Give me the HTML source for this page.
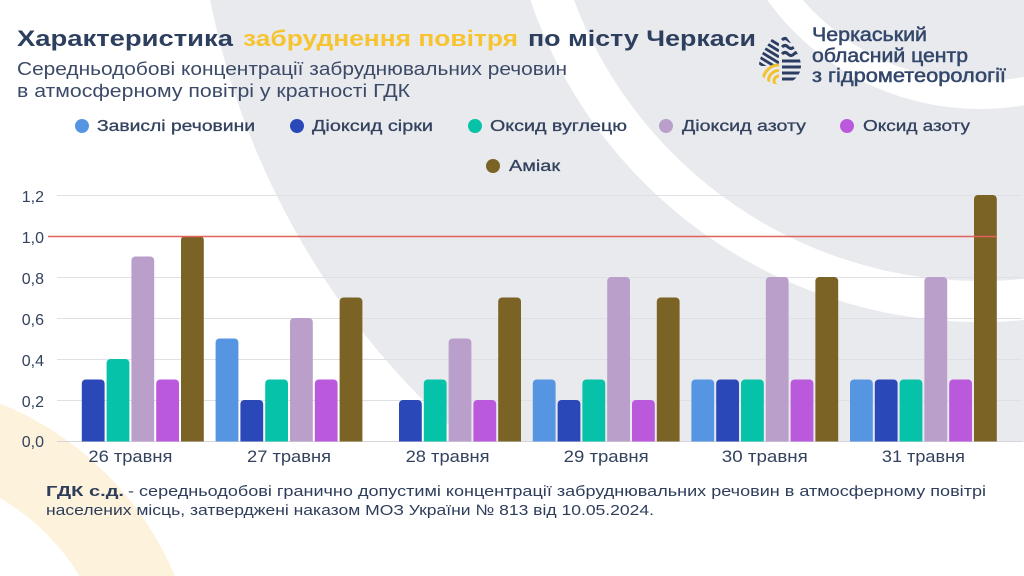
<!DOCTYPE html>
<html><head><meta charset="utf-8"><style>
html,body{margin:0;padding:0;background:#fff;width:1024px;height:576px;overflow:hidden;}
svg{display:block;font-family:"Liberation Sans","Noto Sans CJK SC",sans-serif;overflow:hidden;}
</style></head><body>
<svg width="1024" height="576" viewBox="0 0 1024 576" xmlns="http://www.w3.org/2000/svg">
<defs>
<clipPath id="bars"><rect x="0" y="0" width="1024" height="441.5"/></clipPath>
<clipPath id="dropL"><path d="M780,27 C787,40 801,52 801,66 A21,18.5 0 0 1 759,66 C759,52 773,40 780,27 Z"/></clipPath>
</defs>
<rect width="1024" height="576" fill="#fff"/>
<!-- gray region -->
<path d="M210.1,0 A785,785 0 0 0 467.9,442 L1024,442 L1024,0 Z" fill="#e9eaee"/>
<!-- white big band -->
<path d="M530.3,0 A475,475 0 0 0 1024,320 L1024,278.8 A434,434 0 0 1 573.9,0 Z" fill="#fff"/>
<!-- white thin band -->
<path d="M767.3,0 A262,262 0 0 0 1024,105.3 L1024,76.8 A234,234 0 0 1 802.9,0 Z" fill="#fff"/>
<!-- cream band -->
<path d="M0,403.4 A320,320 0 0 1 175,576 L79.6,576 A235,235 0 0 0 0,497.9 Z" fill="#fdf3dc"/>

<!-- Title -->
<text x="17" y="46" font-size="22" font-weight="bold" fill="#2d3f5e" textLength="216" lengthAdjust="spacingAndGlyphs">Характеристика</text>
<text x="243" y="46" font-size="22" font-weight="bold" fill="#f6c431" textLength="275" lengthAdjust="spacingAndGlyphs">забруднення повітря</text>
<text x="528" y="46" font-size="22" font-weight="bold" fill="#2d3f5e" textLength="228" lengthAdjust="spacingAndGlyphs">по місту Черкаси</text>
<text x="17" y="75" font-size="18" fill="#3b4a67" textLength="550" lengthAdjust="spacingAndGlyphs">Середньодобові концентрації забруднювальних речовин</text>
<text x="17" y="97" font-size="18" fill="#3b4a67" textLength="393" lengthAdjust="spacingAndGlyphs">в атмосферному повітрі у кратності ГДК</text>

<!-- Logo -->
<g clip-path="url(#dropL)">
<g stroke="#2c3d62" stroke-width="2.8">
<line x1="748" y1="26" x2="779" y2="45"/>
<line x1="748" y1="32" x2="779" y2="51"/>
<line x1="748" y1="38" x2="779" y2="57"/>
<line x1="748" y1="44" x2="779" y2="63"/>
<line x1="748" y1="50" x2="779" y2="69"/>
<line x1="748" y1="56" x2="768" y2="68.5"/>
</g>
<rect x="750" y="66" width="29" height="30" fill="#e9eaee"/>
<g fill="none" stroke="#f2c230" stroke-width="3">
<circle cx="779" cy="81" r="5"/>
<circle cx="779" cy="81" r="10.5"/>
<circle cx="779" cy="81" r="16"/>
</g>
<rect x="779" y="20" width="30" height="70" fill="#e9eaee"/>
<g stroke="#2c3d62" stroke-width="3" fill="none">
<path d="M782,40 q3,-3 6,0 t6,0 t6,0"/>
<path d="M782,47 q3,-3 6,0 t6,0 t6,0 t6,0"/>
<path d="M782,54 q3,-3 6,0 t6,0 t6,0 t6,0"/>
<line x1="782" y1="61" x2="803" y2="61"/>
<line x1="782" y1="67" x2="803" y2="67"/>
<line x1="782" y1="73" x2="803" y2="73"/>
<line x1="782" y1="79" x2="803" y2="79"/>
</g>
</g>
<text x="812" y="41" font-size="19" fill="#33476b" stroke="#33476b" stroke-width="0.5" textLength="115" lengthAdjust="spacingAndGlyphs">Черкаський</text>
<text x="812" y="62" font-size="19" fill="#33476b" stroke="#33476b" stroke-width="0.5" textLength="156" lengthAdjust="spacingAndGlyphs">обласний центр</text>
<text x="812" y="82" font-size="19" fill="#33476b" stroke="#33476b" stroke-width="0.5" textLength="194" lengthAdjust="spacingAndGlyphs">з гідрометеорології</text>

<!-- Legend -->
<g font-size="16" fill="#33425e" stroke="#33425e" stroke-width="0.3">
<circle cx="82" cy="126" r="7" fill="#5595e1" stroke="none"/>
<text x="97" y="131" textLength="158" lengthAdjust="spacingAndGlyphs">Завислі речовини</text>
<circle cx="297" cy="126" r="7" fill="#2b48b9" stroke="none"/>
<text x="312" y="131" textLength="121" lengthAdjust="spacingAndGlyphs">Діоксид сірки</text>
<circle cx="475" cy="126" r="7" fill="#06c2a9" stroke="none"/>
<text x="490" y="131" textLength="137" lengthAdjust="spacingAndGlyphs">Оксид вуглецю</text>
<circle cx="666" cy="126" r="7" fill="#b99fca" stroke="none"/>
<text x="682" y="131" textLength="124" lengthAdjust="spacingAndGlyphs">Діоксид азоту</text>
<circle cx="847" cy="126" r="7" fill="#bb59dd" stroke="none"/>
<text x="863" y="131" textLength="107" lengthAdjust="spacingAndGlyphs">Оксид азоту</text>
<circle cx="493" cy="166" r="7" fill="#7a6325" stroke="none"/>
<text x="509" y="171" textLength="51" lengthAdjust="spacingAndGlyphs">Аміак</text>
</g>

<!-- Grid -->
<g stroke="#dfe0e5" stroke-width="1">
<line x1="57" y1="195.5" x2="1022" y2="195.5"/>
<line x1="57" y1="277.5" x2="1022" y2="277.5"/>
<line x1="57" y1="318.5" x2="1022" y2="318.5"/>
<line x1="57" y1="359.5" x2="1022" y2="359.5"/>
<line x1="57" y1="400.5" x2="1022" y2="400.5"/>
<line x1="57" y1="441.5" x2="1022" y2="441.5" stroke="#d6d7dc"/>
</g>
<g font-size="16" fill="#33425e" text-anchor="end">
<text x="44" y="202">1,2</text>
<text x="44" y="243">1,0</text>
<text x="44" y="284">0,8</text>
<text x="44" y="325">0,6</text>
<text x="44" y="366">0,4</text>
<text x="44" y="407">0,2</text>
<text x="44" y="447">0,0</text>
</g>

<!-- Bars -->
<g clip-path="url(#bars)">
<rect x="81.8" y="379.5" width="22.8" height="70" rx="4" fill="#2b48b9"/>
<rect x="106.6" y="359" width="22.8" height="90" rx="4" fill="#06c2a9"/>
<rect x="131.4" y="256.5" width="22.8" height="200" rx="4" fill="#b99fca"/>
<rect x="156.2" y="379.5" width="22.8" height="70" rx="4" fill="#bb59dd"/>
<rect x="181" y="236" width="22.8" height="220" rx="4" fill="#7a6325"/>

<rect x="215.6" y="338.5" width="22.8" height="110" rx="4" fill="#5595e1"/>
<rect x="240.4" y="400" width="22.8" height="50" rx="4" fill="#2b48b9"/>
<rect x="265.2" y="379.5" width="22.8" height="70" rx="4" fill="#06c2a9"/>
<rect x="290" y="318" width="22.8" height="130" rx="4" fill="#b99fca"/>
<rect x="314.8" y="379.5" width="22.8" height="70" rx="4" fill="#bb59dd"/>
<rect x="339.6" y="297.5" width="22.8" height="150" rx="4" fill="#7a6325"/>

<rect x="399" y="400" width="22.8" height="50" rx="4" fill="#2b48b9"/>
<rect x="423.8" y="379.5" width="22.8" height="70" rx="4" fill="#06c2a9"/>
<rect x="448.6" y="338.5" width="22.8" height="110" rx="4" fill="#b99fca"/>
<rect x="473.4" y="400" width="22.8" height="50" rx="4" fill="#bb59dd"/>
<rect x="498.2" y="297.5" width="22.8" height="150" rx="4" fill="#7a6325"/>

<rect x="532.8" y="379.5" width="22.8" height="70" rx="4" fill="#5595e1"/>
<rect x="557.6" y="400" width="22.8" height="50" rx="4" fill="#2b48b9"/>
<rect x="582.4" y="379.5" width="22.8" height="70" rx="4" fill="#06c2a9"/>
<rect x="607.2" y="277" width="22.8" height="170" rx="4" fill="#b99fca"/>
<rect x="632" y="400" width="22.8" height="50" rx="4" fill="#bb59dd"/>
<rect x="656.8" y="297.5" width="22.8" height="150" rx="4" fill="#7a6325"/>

<rect x="691.4" y="379.5" width="22.8" height="70" rx="4" fill="#5595e1"/>
<rect x="716.2" y="379.5" width="22.8" height="70" rx="4" fill="#2b48b9"/>
<rect x="741" y="379.5" width="22.8" height="70" rx="4" fill="#06c2a9"/>
<rect x="765.8" y="277" width="22.8" height="170" rx="4" fill="#b99fca"/>
<rect x="790.6" y="379.5" width="22.8" height="70" rx="4" fill="#bb59dd"/>
<rect x="815.4" y="277" width="22.8" height="170" rx="4" fill="#7a6325"/>

<rect x="850" y="379.5" width="22.8" height="70" rx="4" fill="#5595e1"/>
<rect x="874.8" y="379.5" width="22.8" height="70" rx="4" fill="#2b48b9"/>
<rect x="899.6" y="379.5" width="22.8" height="70" rx="4" fill="#06c2a9"/>
<rect x="924.4" y="277" width="22.8" height="170" rx="4" fill="#b99fca"/>
<rect x="949.2" y="379.5" width="22.8" height="70" rx="4" fill="#bb59dd"/>
<rect x="974" y="195" width="22.8" height="260" rx="4" fill="#7a6325"/>
</g>

<line x1="48" y1="236.5" x2="997" y2="236.5" stroke="#e0625a" stroke-width="1.5"/>

<!-- X labels -->
<g font-size="17" fill="#33425e" text-anchor="middle">
<text x="130.4" y="462" textLength="84" lengthAdjust="spacingAndGlyphs">26 травня</text>
<text x="289" y="462" textLength="84" lengthAdjust="spacingAndGlyphs">27 травня</text>
<text x="447.6" y="462" textLength="84" lengthAdjust="spacingAndGlyphs">28 травня</text>
<text x="606.2" y="462" textLength="85" lengthAdjust="spacingAndGlyphs">29 травня</text>
<text x="764.8" y="462" textLength="86" lengthAdjust="spacingAndGlyphs">30 травня</text>
<text x="923.4" y="462" textLength="83" lengthAdjust="spacingAndGlyphs">31 травня</text>
</g>

<!-- Footnote -->
<g font-size="15" fill="#2e3e5a">
<text x="46" y="496" font-weight="bold" textLength="78" lengthAdjust="spacingAndGlyphs">ГДК с.д.</text>
<text x="128" y="496" textLength="858" lengthAdjust="spacingAndGlyphs">- середньодобові гранично допустимі концентрації забруднювальних речовин в атмосферному повітрі</text>
<text x="46" y="515" textLength="608" lengthAdjust="spacingAndGlyphs">населених місць, затверджені наказом МОЗ України № 813 від 10.05.2024.</text>
</g>
</svg>
</body></html>
